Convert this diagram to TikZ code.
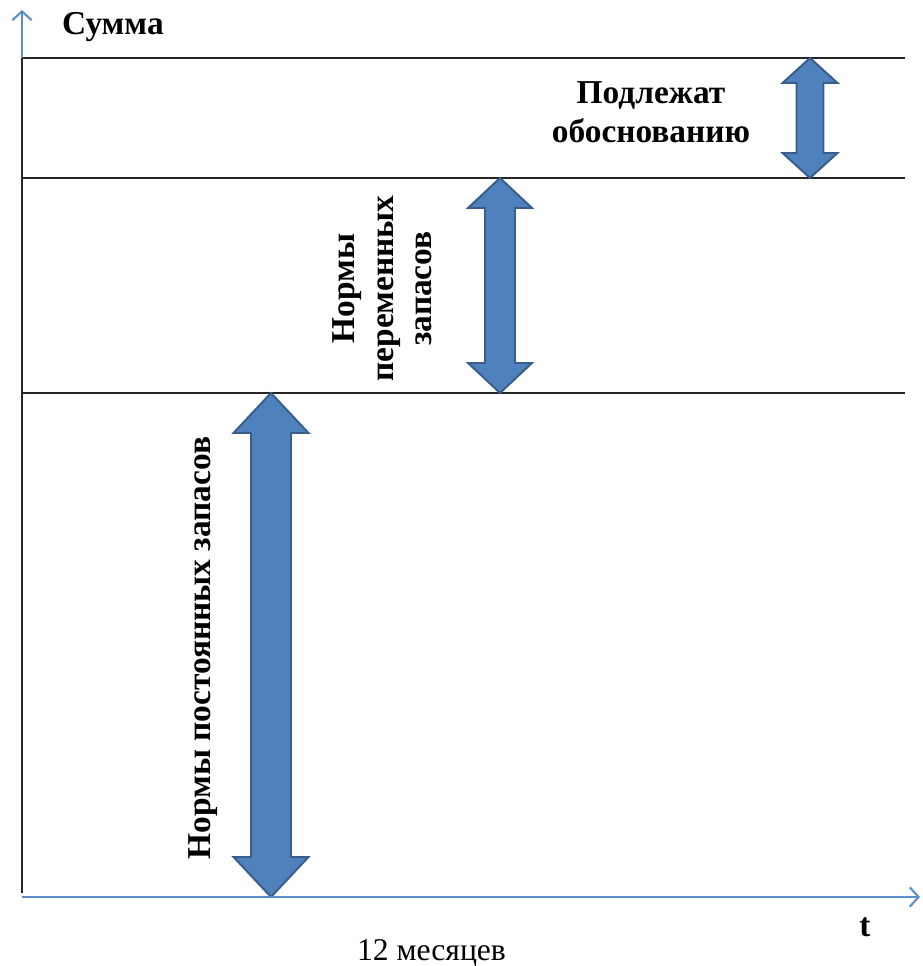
\documentclass[tikz,border=0pt]{standalone}
\usepackage{fontspec}
\setmainfont{Liberation Serif}
\usetikzlibrary{arrows.meta}
\definecolor{axisblue}{HTML}{5B8FCB}
\definecolor{arrowfill}{HTML}{4F81BD}
\definecolor{arrowline}{HTML}{385D8A}
\begin{document}
\begin{tikzpicture}[
    lbl/.style={font=\fontsize{19}{22}\selectfont\bfseries, align=center},
    level/.style={line width=0.8pt, black!85},
    axis/.style={line width=1.2pt, axisblue, -{Straight Barb[length=5pt,width=11pt]}},
    fatarrow/.style={fill=arrowfill, draw=arrowline, line width=1.1pt, line join=miter}
]
    \useasboundingbox (0,0) rectangle (18.44,19.32);

    % Define coordinates for the axes
    \coordinate (Origin) at (0.44, 1.38);
    \coordinate (XEnd) at (18.40, 1.38);
    \coordinate (YEnd) at (0.44, 19.12);
    \coordinate (BoxTop) at (0.44, 18.16);
    \coordinate (BoxBot) at (0.44, 1.46);

    % Level lines and the black left edge
    \draw[level] (BoxBot) -- (BoxTop);
    \foreach \y in {18.16, 15.76, 11.46} {
        \draw[level] (0.44,\y) -- (18.10,\y);
    }

    % Double arrows: x / bottom / top / shaft half width / head half width / head length
    \foreach \x/\yb/\yt/\sw/\hw/\hl in {16.2/15.76/18.16/0.27/0.55/0.5,
                                        10.0/11.46/15.76/0.30/0.64/0.6,
                                        5.42/1.38/11.46/0.40/0.75/0.8} {
        \draw[fatarrow] (\x,\yt) -- (\x+\hw,\yt-\hl) -- (\x+\sw,\yt-\hl)
            -- (\x+\sw,\yb+\hl) -- (\x+\hw,\yb+\hl) -- (\x,\yb)
            -- (\x-\hw,\yb+\hl) -- (\x-\sw,\yb+\hl) -- (\x-\sw,\yt-\hl)
            -- (\x-\hw,\yt-\hl) -- cycle;
    }

    % Axes
    \draw[axis] (BoxTop) -- (YEnd);
    \draw[axis] (Origin) -- (XEnd);

    % Labels
    \node[lbl, anchor=base west] (sum) at (1.12, 18.62) {Сумма};
    \node[lbl] (justify) at (13.02, 17.08) {Подлежат\\обоснованию};
    \node[lbl, rotate=90] (varnorm) at (7.65, 13.55) {Нормы\\переменных\\запасов};
    \node[lbl, rotate=90] (constnorm) at (4.06, 6.36) {Нормы постоянных запасов};
    \node[lbl, anchor=base] (t) at (17.3, 0.58) {t};
    \node[font=\fontsize{18}{22}\selectfont, anchor=base] (months) at (8.63, 0.12) {12 месяцев};

\end{tikzpicture}
\end{document}
